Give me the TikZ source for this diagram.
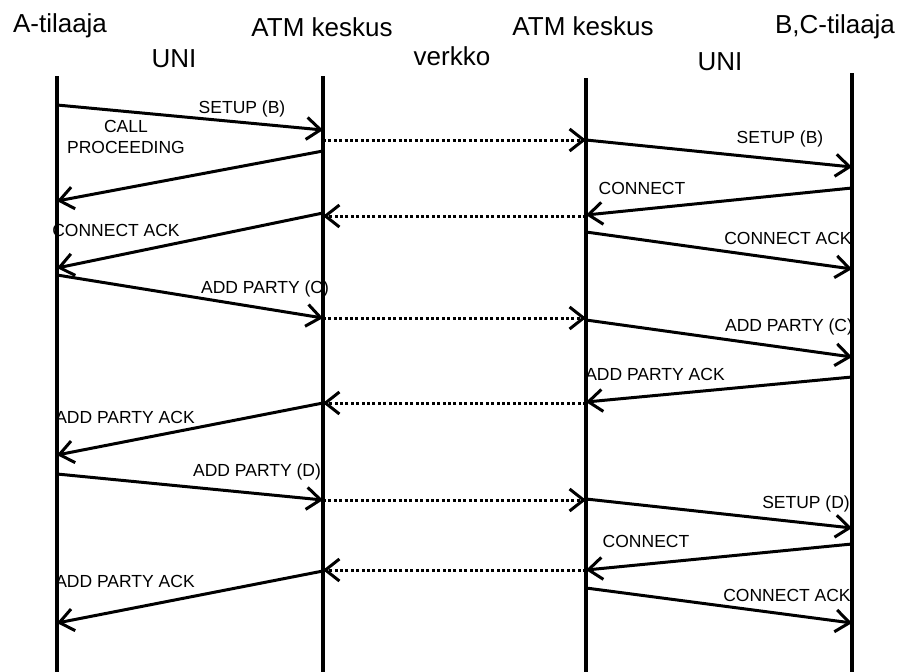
\documentclass[tikz,border=0pt]{standalone}
\usepackage{fontspec}
\setmainfont{Liberation Sans}
\usepackage{tikz}
\usetikzlibrary{arrows.meta}
\newcommand{\xA}{57}
\newcommand{\xB}{323}
\newcommand{\xC}{586}
\newcommand{\xD}{852}
\newcommand{\lifeline}[3]{%
 \coordinate (#1top) at (#2,#3);%
 \coordinate (#1bot) at (#2,672);%
 \draw[lifeline] (#1top) -- (#1bot);}
\newcommand{\msg}[6]{%
 \coordinate (#1s) at (#2,#3);%
 \coordinate (#1e) at (#4,#5);%
 \draw[#6] (#1s) -- (#1e);}
\begin{document}
\begin{tikzpicture}[x=1pt, y=-1pt,
  hdr/.style={font=\fontsize{26}{30}\selectfont, anchor=base, inner sep=0pt},
  lbl/.style={font=\fontsize{17.5}{21}\selectfont, anchor=base, inner sep=0pt},
  lifeline/.style={line width=3.2pt},
  msgline/.style={line width=3pt, -{Straight Barb[length=14pt,width=22pt]}},
  relay/.style={msgline, dash pattern=on 3pt off 2.4pt}]
\useasboundingbox (0,0) rectangle (898,672);
% headers
\node[hdr] (hA) at (60,32) {A-tilaaja};
\node[hdr] (hB) at (322,36) {ATM keskus};
\node[hdr] (hC) at (583,35) {ATM keskus};
\node[hdr] (hD) at (835,33) {B,C-tilaaja};
\node[hdr] (uni1) at (174,67) {UNI};
\node[hdr] (net) at (452,65) {verkko};
\node[hdr] (uni2) at (720,70) {UNI};
% message labels
\node[lbl] (l1) at (242,113) {SETUP (B)};
\node[lbl, align=center] (l2) at (126,153) {CALL\\PROCEEDING};
\node[lbl] (l3) at (780,143) {SETUP (B)};
\node[lbl] (l4) at (642,194) {CONNECT};
\node[lbl] (l5) at (116,236) {CONNECT ACK};
\node[lbl] (l6) at (788,244) {CONNECT ACK};
\node[lbl] (l7) at (265,293) {ADD PARTY (C)};
\node[lbl] (l8) at (789,331) {ADD PARTY (C)};
\node[lbl] (l9) at (655,380) {ADD PARTY ACK};
\node[lbl] (l10) at (125,423) {ADD PARTY ACK};
\node[lbl] (l11) at (257,476) {ADD PARTY (D)};
\node[lbl] (l12) at (806,508) {SETUP (D)};
\node[lbl] (l13) at (646,547) {CONNECT};
\node[lbl] (l14) at (125,587) {ADD PARTY ACK};
\node[lbl] (l15) at (787,601) {CONNECT ACK};
% lifelines
\lifeline{a}{\xA}{76}
\lifeline{b}{\xB}{76}
\lifeline{c}{\xC}{78}
\lifeline{d}{\xD}{73}
% messages
\msg{m1}{\xA}{105}{\xB}{130}{msgline}
\msg{m2}{\xB}{140}{\xC}{140}{relay}
\msg{m3}{\xC}{140}{\xD}{167}{msgline}
\msg{m4}{\xB}{151}{\xA}{201}{msgline}
\msg{m5}{\xD}{188}{\xC}{215}{msgline}
\msg{m6}{\xC}{216}{\xB}{216}{relay}
\msg{m7}{\xB}{213}{\xA}{268}{msgline}
\msg{m8}{\xC}{232}{\xD}{269}{msgline}
\msg{m9}{\xA}{275}{\xB}{318}{msgline}
\msg{m10}{\xB}{318}{\xC}{318}{relay}
\msg{m11}{\xC}{320}{\xD}{357}{msgline}
\msg{m12}{\xD}{377}{\xC}{402}{msgline}
\msg{m13}{\xC}{403}{\xB}{403}{relay}
\msg{m14}{\xB}{403}{\xA}{455}{msgline}
\msg{m15}{\xA}{474}{\xB}{500}{msgline}
\msg{m16}{\xB}{500}{\xC}{500}{relay}
\msg{m17}{\xC}{499}{\xD}{528}{msgline}
\msg{m18}{\xD}{544}{\xC}{570}{msgline}
\msg{m19}{\xC}{570}{\xB}{570}{relay}
\msg{m20}{\xB}{571}{\xA}{623}{msgline}
\msg{m21}{\xC}{588}{\xD}{623}{msgline}
\end{tikzpicture}
\end{document}
